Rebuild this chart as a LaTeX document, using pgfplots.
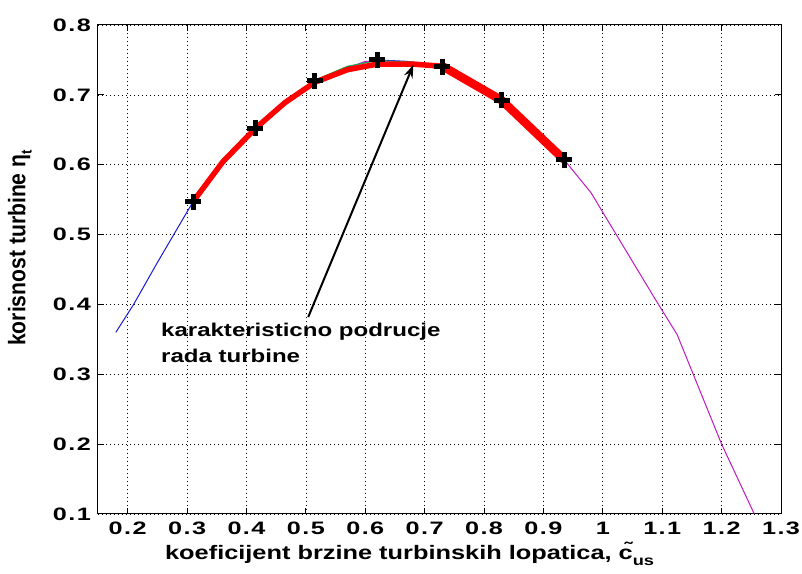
\documentclass[border=0pt]{standalone}
\usepackage{pgfplots}
\pgfplotsset{compat=1.18}
\usepackage{fontspec}
\setmainfont{Liberation Sans}[FakeStretch=1.3]
\newfontfamily\lbold{Liberation Sans Bold}[FakeStretch=1.3]
\newfontfamily\tickfont{Liberation Sans Bold}[FakeStretch=1.4, LetterSpace=8]
\newfontfamily\ylabfont{Liberation Sans Bold}[FakeStretch=0.88]
\usetikzlibrary{arrows.meta}

\definecolor{mblue}{rgb}{0.1,0.1,0.85}
\definecolor{mpurple}{rgb}{0.75,0.1,0.75}
\definecolor{mgreen}{rgb}{0.1,0.7,0.3}

\begin{document}
\begin{tikzpicture}
\begin{axis}[
    name=ax,
    width=683pt, height=489pt,
    scale only axis,
    xmin=0.15, xmax=1.3,
    ymin=0.1, ymax=0.8,
    xtick={0.2,0.3,0.4,0.5,0.6,0.7,0.8,0.9,1,1.1,1.2,1.3},
    ytick={0.1,0.2,0.3,0.4,0.5,0.6,0.7,0.8},
    tick align=inside,
    tick pos=both,
    major tick length=6pt,
    grid=major,
    major grid style={black, line width=0.7pt, dash pattern=on 0.8pt off 3.2pt},
    axis line style={black, line width=1pt},
    tick style={black, line width=1pt},
    /pgf/number format/assume math mode=true,
    tick label style={font=\tickfont\fontsize{18}{18}\selectfont, inner sep=0pt},
    yticklabel style={xshift=-7pt},
    xticklabel style={yshift=-8pt},
    xlabel={koeficijent brzine turbinskih lopatica, \~{c}\raisebox{-0.55ex}{\fontsize{14}{14}\selectfont us}},
    xlabel style={font=\lbold\fontsize{19.5}{19.5}\selectfont, at={(axis description cs:0.098,0)},
        anchor=north west, inner sep=0pt, yshift=-28pt},
    ylabel={korisnost turbine η\raisebox{-0.5ex}{\fontsize{15}{15}\selectfont t}},
    ylabel style={font=\ylabfont\fontsize{24}{24}\selectfont, at={(axis description cs:0,0.544)},
        anchor=south, inner sep=0pt, yshift=66pt},
    clip=true,
]

% blue curve (left branch)
\addplot[color=mblue, line width=1pt] coordinates {
    (0.18,0.36) (0.21,0.40) (0.25,0.46) (0.31,0.547) (0.36,0.605)
    (0.415,0.652) (0.465,0.69) (0.515,0.72) (0.57,0.74) (0.62,0.75)
    (0.67,0.748) (0.72,0.742)
};

% purple curve (right branch)
\addplot[color=mpurple, line width=1pt] coordinates {
    (0.36,0.605) (0.415,0.652) (0.515,0.72) (0.6,0.748) (0.7,0.745) (0.73,0.74)
    (0.83,0.692) (0.935,0.607) (0.98,0.56) (1.09,0.405) (1.125,0.357)
    (1.2,0.2) (1.255,0.1)
};

% green curve near the top
\addplot[color=mgreen, line width=1pt] coordinates {
    (0.515,0.721) (0.57,0.741) (0.62,0.749) (0.68,0.747) (0.72,0.743)
};

% working region
\addplot[color=red, line width=5.5pt, line join=round] coordinates {
    (0.31,0.547) (0.36,0.604) (0.415,0.652) (0.465,0.689) (0.515,0.718)
    (0.57,0.736) (0.62,0.744) (0.68,0.744) (0.73,0.741)
};
\addplot[color=red, line width=8.5pt, line join=round] coordinates {
    (0.73,0.741) (0.83,0.692) (0.935,0.607)
};
\addplot[only marks, mark=+, mark size=8pt, mark options={black, line width=5pt}] coordinates {
    (0.31,0.547) (0.415,0.652) (0.515,0.72) (0.62,0.75) (0.73,0.74)
    (0.83,0.692) (0.935,0.607)
};

\draw[-{Stealth[length=13pt,width=9pt]}, line width=2pt, black]
    (axis cs:0.504,0.382) -- (axis cs:0.681,0.743);

\node[anchor=north west, inner sep=0pt, align=left,
      font=\lbold\fontsize{18.5}{26}\selectfont]
    at (axis cs:0.256,0.374) {karakteristicno podrucje\\rada turbine};

\end{axis}
% page margins as in the reference
\pgfresetboundingbox
\useasboundingbox ([xshift=-98pt,yshift=-60pt]ax.south west)
    rectangle ([xshift=21pt,yshift=25pt]ax.north east);
\end{tikzpicture}
\end{document}
